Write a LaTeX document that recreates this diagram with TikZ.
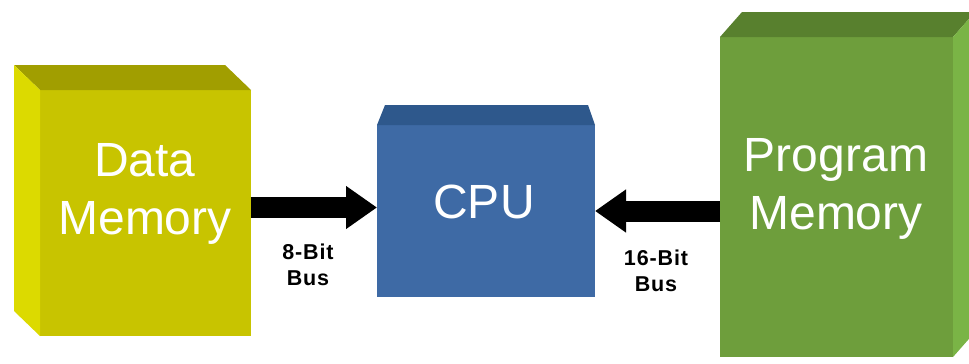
\documentclass[tikz,border=0pt]{standalone}
\usepackage{fontspec}
\setmainfont{Liberation Sans}
\usetikzlibrary{arrows.meta}

\definecolor{dmFront}{HTML}{C8C400}
\definecolor{dmTop}{HTML}{A19E00}
\definecolor{dmSide}{HTML}{DCDA00}
\definecolor{cpuFront}{HTML}{3E6AA5}
\definecolor{cpuTop}{HTML}{2E588C}
\definecolor{pmFront}{HTML}{6E9E3C}
\definecolor{pmTop}{HTML}{58802E}
\definecolor{pmSide}{HTML}{7AB446}

\tikzset{
  face/.style={draw=none, inner sep=0pt, outer sep=0pt, rectangle},
  boxtext/.style={text=white, inner sep=0pt, align=center,
    font=\fontsize{48}{58}\selectfont},
  buslabel/.style={text=black, inner sep=0pt, align=center,
    font=\bfseries\fontsize{21.5}{26}\selectfont\addfontfeature{LetterSpace=4}},
  bus/.style={line width=21pt, draw=black,
    -{Triangle[length=31pt,width=41pt,fill=black]}}
}

\begin{document}
\begin{tikzpicture}[x=1pt,y=-1pt]
  \useasboundingbox (0,0) rectangle (969,364);
  \clip (0,0) rectangle (969,364);
  \fill[white] (0,0) rectangle (969,364);

  % Data memory block
  \node[face, fill=dmFront, minimum width=211pt, minimum height=246pt] (dm) at (145.5,213) {};
  \fill[dmTop] (dm.north west) -- ([shift={(-26,-25)}]dm.north west)
    -- ([shift={(-26,-25)}]dm.north east) -- (dm.north east) -- cycle;
  \fill[dmSide] (dm.north west) -- ([shift={(-26,-25)}]dm.north west)
    -- ([shift={(-26,-25)}]dm.south west) -- (dm.south west) -- cycle;
  \node[boxtext] (dmtext) at (145,194) {Data\\Memory};

  % CPU block
  \node[face, fill=cpuFront, minimum width=218pt, minimum height=172pt] (cpu) at (486,211) {};
  \fill[cpuTop] (cpu.north west) -- ([shift={(8,-20)}]cpu.north west)
    -- ([shift={(-7,-20)}]cpu.north east) -- (cpu.north east) -- cycle;
  \node[boxtext] (cputext) at (484,202) {CPU};

  % Program memory block
  \node[face, fill=pmFront, minimum width=233pt, minimum height=320pt] (pm) at (836.5,197) {};
  \fill[pmTop] (pm.north west) -- ([shift={(22,-25)}]pm.north west)
    -- ([shift={(22,-25)}]pm.north east) -- (pm.north east) -- cycle;
  \fill[pmSide] (pm.north east) -- ([shift={(22,-25)}]pm.north east)
    -- ([shift={(22,-25)}]pm.south east) -- (pm.south east) -- cycle;
  \node[boxtext] (pmtext) at (836,189) {Program\\Memory};

  % Buses
  \coordinate (busL) at (0,207.5);
  \coordinate (busR) at (0,211);
  \draw[bus] (dm.east |- busL) -- (cpu.west |- busL);
  \draw[bus] (pm.west |- busR) -- (cpu.east |- busR);

  \node[buslabel] (lblL) at (308,265) {8-Bit\\Bus};
  \node[buslabel] (lblR) at (656,271) {16-Bit\\Bus};
\end{tikzpicture}
\end{document}
